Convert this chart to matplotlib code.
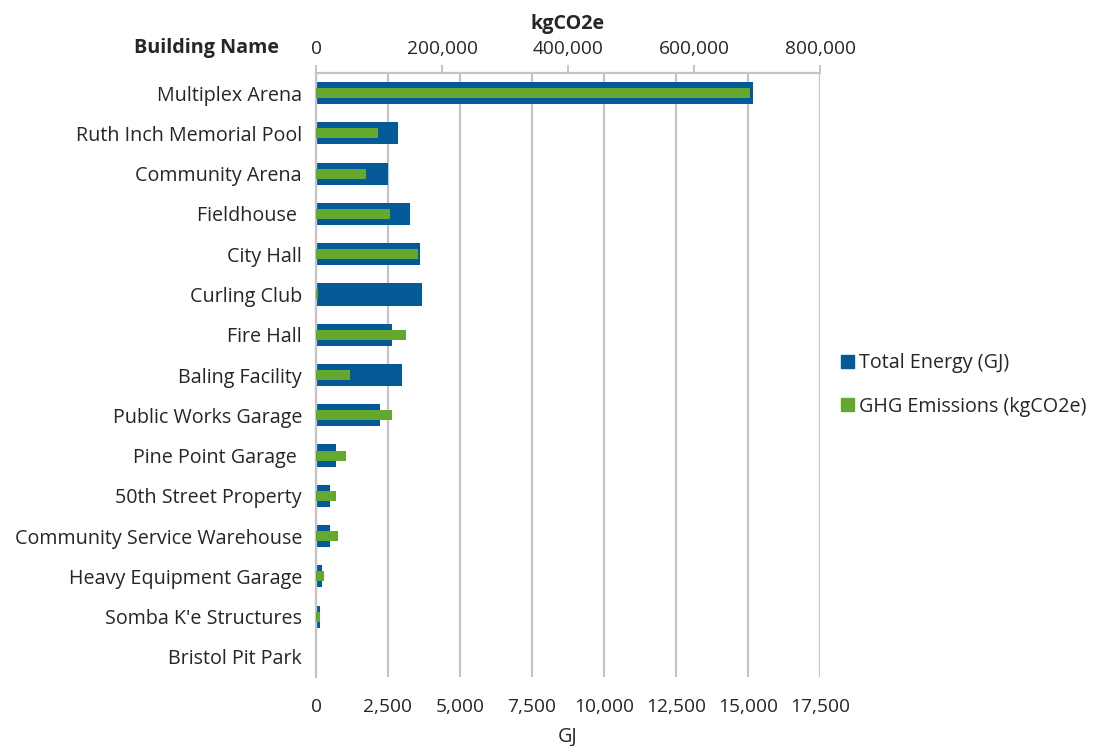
import matplotlib
matplotlib.use("Agg")
import matplotlib.pyplot as plt
from matplotlib.patches import Patch
import numpy as np

plt.rcParams['font.family'] = ['Open Sans', 'DejaVu Sans']

buildings = ["Multiplex Arena", "Ruth Inch Memorial Pool", "Community Arena", "Fieldhouse ",
             "City Hall", "Curling Club", "Fire Hall", "Baling Facility", "Public Works Garage",
             "Pine Point Garage ", "50th Street Property", "Community Service Warehouse",
             "Heavy Equipment Garage", "Somba K'e Structures", "Bristol Pit Park"]
energy_gj = [15180, 2850, 2500, 3260, 3610, 3680, 2640, 2990, 2220, 690, 500, 500, 210, 140, 0]
ghg_kg = [689000, 98400, 79900, 117400, 161900, 3700, 142800, 54000, 120600, 47600, 31700,
          35400, 13200, 6300, 0]
gj_ticks = [0, 2500, 5000, 7500, 10000, 12500, 15000, 17500]
kg_ticks = [0, 200000, 400000, 600000, 800000]

blue = '#045A98'
green = '#65A830'
grid_c = '#C4C4C4'
txt_c = '#262626'
fs = 14.2

fig = plt.figure(figsize=(11, 7.46), dpi=100)
ax = fig.add_axes([316/1100, 1-677/746, (820-316)/1100, (677-73)/746])
y = np.arange(len(buildings))
ax.barh(y, energy_gj, height=0.55, color=blue, zorder=2)
ax.set_xlim(0, 17500)
ax.set_ylim(len(buildings)-0.5, -0.5)
ax.set_yticks(y)
ax.set_yticklabels(buildings, fontsize=fs, color=txt_c)
ax.set_xticks(gj_ticks)
ax.set_xticklabels([f"{v:,}" for v in gj_ticks], fontsize=fs - 0.4, color=txt_c)
ax.tick_params(axis='x', length=0, pad=15)
ax.tick_params(axis='y', length=0, pad=10)
ax.grid(axis='x', color=grid_c, lw=1.6, zorder=0)
for s in ['top', 'right', 'bottom']:
    ax.spines[s].set_visible(False)
ax.spines['left'].set_color(grid_c)
ax.spines['left'].set_linewidth(1.6)
ax.set_xlabel("GJ", fontsize=fs, color=txt_c, labelpad=8)

ax2 = ax.twiny()
ax2.barh(y, ghg_kg, height=0.25, color=green, zorder=3)
ax2.set_xlim(0, 800000)
ax2.set_xticks(kg_ticks)
ax2.set_xticklabels([f"{v:,}" for v in kg_ticks], fontsize=fs - 0.4, color=txt_c)
ax2.tick_params(axis='x', direction='out', length=6, color=grid_c, width=1.4, pad=5)
for s in ['bottom', 'right', 'left']:
    ax2.spines[s].set_visible(False)
ax2.spines['top'].set_color(grid_c)
ax2.spines['top'].set_linewidth(1.6)
ax2.set_xlabel("kgCO2e", fontsize=fs, fontweight='bold', color=txt_c, labelpad=8)

fig.text(206/1100, 1-48/746, "Building Name", fontsize=fs, fontweight='bold', color=txt_c,
         ha='center', va='center')

handles = [Patch(color=blue, label='Total Energy (GJ)'), Patch(color=green, label='GHG Emissions (kgCO2e)')]
leg = fig.legend(handles=handles, loc='center left', bbox_to_anchor=(823/1100, 1-385/746),
                 frameon=False, fontsize=fs, handlelength=0.65, handleheight=0.65,
                 handletextpad=0.3, labelspacing=1.2)
for t in leg.get_texts():
    t.set_color(txt_c)

fig.savefig("out.png", dpi=100)
